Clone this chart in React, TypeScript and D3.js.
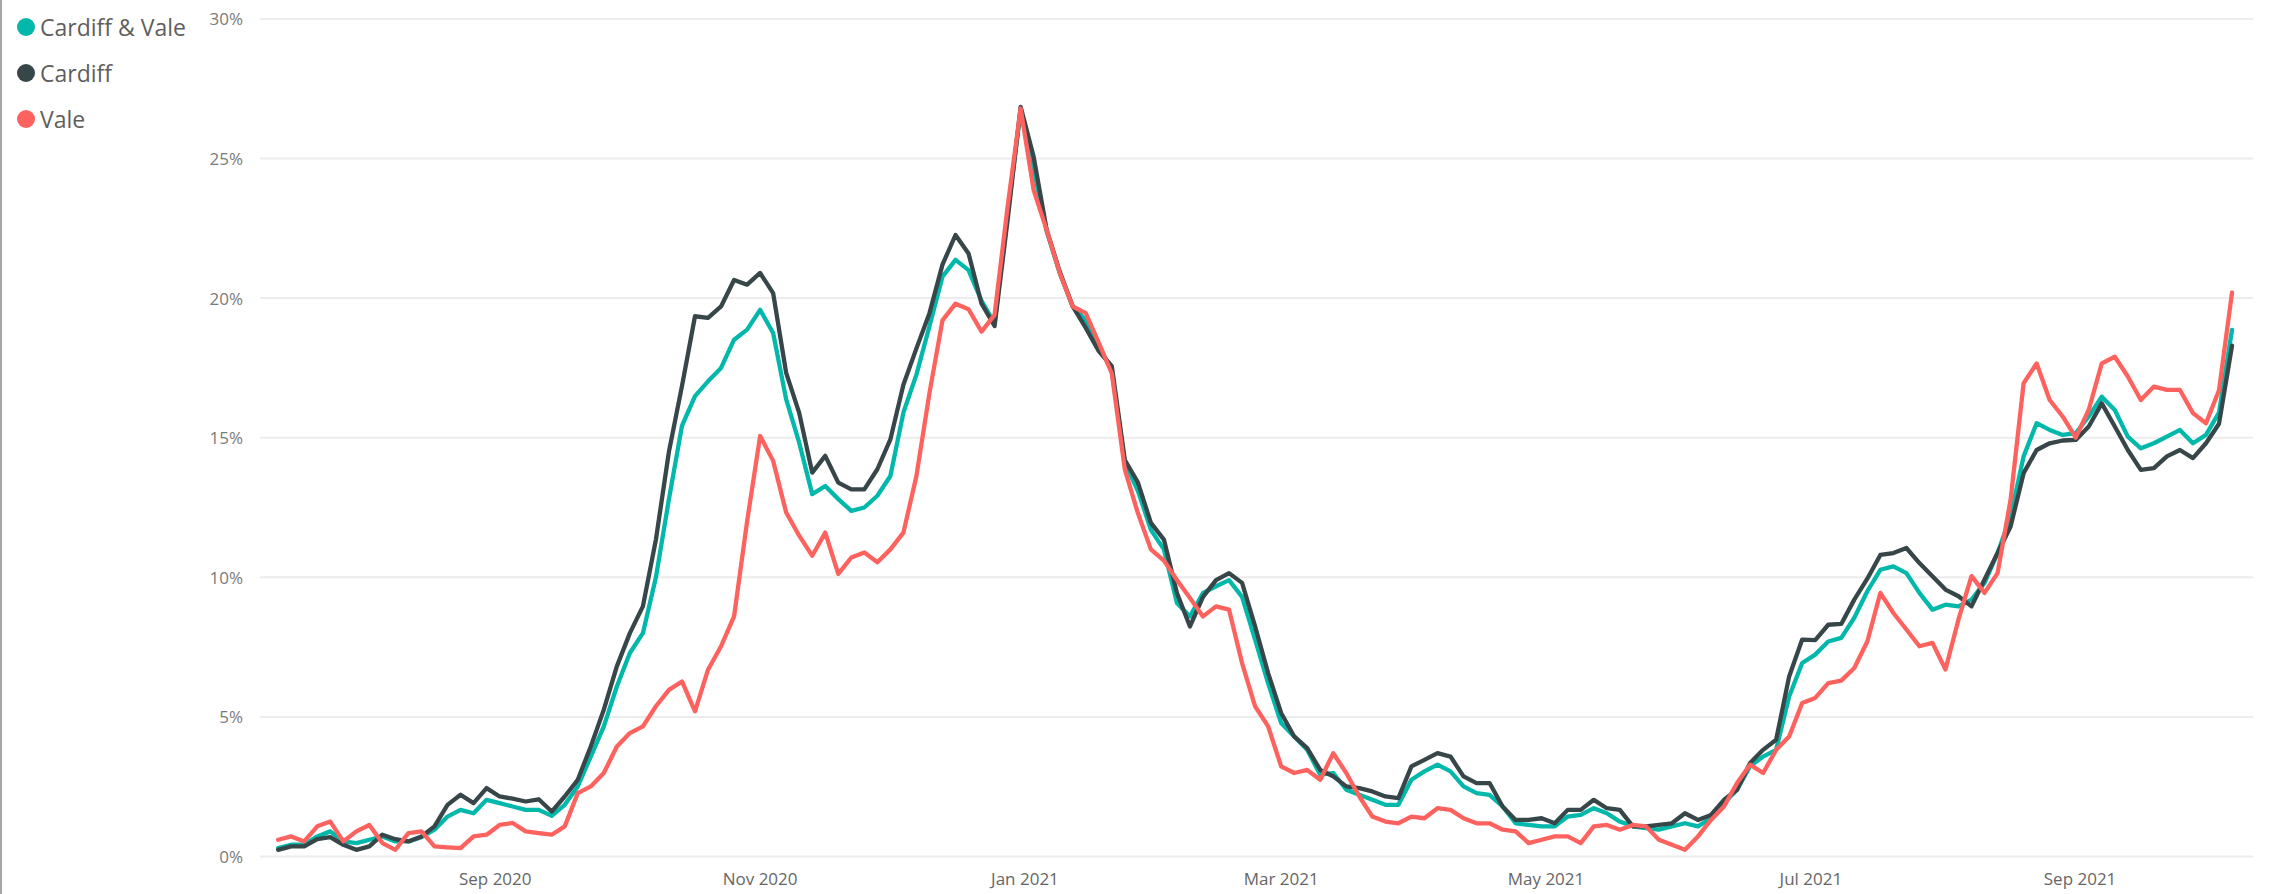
import React from "react";
import * as d3 from "d3";

// ---- data (7-day positivity, %, sampled every 3 days from 2020-07-13) ----
const startDate = "2020-07-13";
const stepDays = 3;

const seriesNames = ["Cardiff & Vale", "Cardiff", "Vale"];
const seriesColors = ["#01B8AA", "#374649", "#FD625E"];

const cardiffVale = [
  0.3, 0.42, 0.42, 0.72, 0.9, 0.54, 0.48, 0.6, 0.72, 0.54,
  0.54, 0.69, 0.96, 1.43, 1.67, 1.55, 2.03, 1.91, 1.79, 1.67,
  1.67, 1.46, 1.85, 2.51, 3.58, 4.66, 6.09, 7.29, 8.0, 10.0,
  12.8, 15.42, 16.49, 17.02, 17.5, 18.51, 18.87, 19.58, 18.75, 16.37,
  14.82, 12.98, 13.27, 12.8, 12.38, 12.5, 12.92, 13.63, 15.9, 17.26,
  18.99, 20.77, 21.37, 21.0, 19.9, 19.1, 23.0, 26.7, 24.6, 22.4,
  20.9, 19.7, 19.2, 18.3, 17.4, 14.1, 13.1, 11.7, 11.0, 9.08,
  8.6, 9.44, 9.68, 9.9, 9.3, 7.77, 6.2, 4.78, 4.3, 3.82,
  2.93, 2.99, 2.39, 2.21, 2.03, 1.85, 1.85, 2.75, 3.05, 3.29,
  3.05, 2.51, 2.27, 2.21, 1.79, 1.19, 1.13, 1.08, 1.08, 1.43,
  1.49, 1.73, 1.55, 1.25, 1.08, 1.02, 0.96, 1.08, 1.19, 1.08,
  1.37, 1.91, 2.39, 3.23, 3.58, 3.82, 5.73, 6.93, 7.23, 7.7,
  7.83, 8.55, 9.5, 10.27, 10.39, 10.15, 9.44, 8.84, 9.02, 8.96,
  9.2, 9.8, 10.87, 12.18, 14.33, 15.52, 15.28, 15.1, 15.16, 15.76,
  16.47, 15.99, 15.04, 14.62, 14.8, 15.04, 15.28, 14.8, 15.1, 15.9,
  18.86,
];

const cardiff = [
  0.24, 0.36, 0.36, 0.62, 0.69, 0.42, 0.24, 0.36, 0.78, 0.62,
  0.54, 0.72, 1.08, 1.85, 2.21, 1.91, 2.45, 2.15, 2.07, 1.97,
  2.05, 1.61, 2.15, 2.75, 3.94, 5.26, 6.81, 8.0, 8.96, 11.35,
  14.5, 16.85, 19.35, 19.29, 19.7, 20.65, 20.48, 20.9, 20.18, 17.32,
  15.89, 13.75, 14.35, 13.39, 13.15, 13.15, 13.87, 14.94, 16.9, 18.2,
  19.46, 21.2, 22.26, 21.6, 19.8, 19.0, 22.8, 26.85, 25.06, 22.44,
  20.95, 19.7, 18.93, 18.1, 17.56, 14.2, 13.4, 11.95, 11.35, 9.44,
  8.24, 9.3, 9.9, 10.15, 9.8, 8.24, 6.57, 5.14, 4.3, 3.88,
  3.1, 2.87, 2.51, 2.45, 2.33, 2.15, 2.09, 3.23, 3.46, 3.7,
  3.58, 2.87, 2.63, 2.63, 1.79, 1.31, 1.31, 1.37, 1.19, 1.67,
  1.67, 2.03, 1.73, 1.67, 1.08, 1.08, 1.13, 1.19, 1.55, 1.31,
  1.49, 2.03, 2.39, 3.35, 3.82, 4.18, 6.45, 7.77, 7.75, 8.3,
  8.33, 9.2, 9.95, 10.8, 10.87, 11.05, 10.51, 10.04, 9.56, 9.32,
  8.96, 9.92, 10.87, 11.82, 13.73, 14.56, 14.8, 14.9, 14.92, 15.4,
  16.23, 15.4, 14.56, 13.85, 13.91, 14.33, 14.56, 14.27, 14.8, 15.5,
  18.3,
];

const vale = [
  0.6, 0.72, 0.54, 1.08, 1.25, 0.54, 0.9, 1.13, 0.48, 0.24,
  0.84, 0.9, 0.36, 0.33, 0.3, 0.72, 0.78, 1.13, 1.2, 0.9,
  0.84, 0.78, 1.08, 2.27, 2.51, 2.99, 3.94, 4.42, 4.66, 5.38,
  5.97, 6.27, 5.2, 6.69, 7.53, 8.6, 12.0, 15.06, 14.17, 12.32,
  11.49, 10.77, 11.6, 10.12, 10.71, 10.89, 10.54, 11.0, 11.6, 13.63,
  16.6, 19.2, 19.8, 19.6, 18.8, 19.4, 23.27, 26.79, 23.87, 22.44,
  20.9, 19.7, 19.46, 18.4, 17.3, 13.86, 12.3, 11.0, 10.6, 9.9,
  9.26, 8.6, 8.96, 8.84, 6.93, 5.38, 4.66, 3.23, 2.99, 3.1,
  2.75, 3.7, 2.99, 2.15, 1.43, 1.25, 1.19, 1.43, 1.37, 1.73,
  1.67, 1.37, 1.19, 1.19, 0.96, 0.9, 0.48, 0.6, 0.72, 0.72,
  0.48, 1.08, 1.13, 0.96, 1.13, 1.08, 0.6, 0.42, 0.24, 0.72,
  1.31, 1.79, 2.63, 3.29, 2.99, 3.82, 4.3, 5.5, 5.68, 6.21,
  6.3, 6.75, 7.7, 9.44, 8.72, 8.13, 7.53, 7.65, 6.7, 8.49,
  10.04, 9.44, 10.15, 12.78, 16.95, 17.66, 16.35, 15.76, 15.0, 16.0,
  17.66, 17.9, 17.19, 16.35, 16.83, 16.71, 16.71, 15.88, 15.52, 16.7,
  20.2,
];

const yTicks = [0, 5, 10, 15, 20, 25, 30];
const xTickDates = ["2020-09-01", "2020-11-01", "2021-01-01", "2021-03-01", "2021-05-01", "2021-07-01", "2021-09-01"];
const xTickLabels = ["Sep 2020", "Nov 2020", "Jan 2021", "Mar 2021", "May 2021", "Jul 2021", "Sep 2021"];
const xDomain = ["2020-07-09", "2021-10-10"];

// ---- layout ----
const W = 2280;
const H = 894;
const plotLeft = 260;
const plotRight = 2253;
const FONT = "'Segoe UI', 'Open Sans', 'Noto Sans', sans-serif";

const parse = (s: string) => new Date(s + "T00:00:00Z");

export default function App() {
  const x = d3.scaleUtc().domain(xDomain.map(parse)).range([260.8, 2249.4]);
  const y = d3.scaleLinear().domain([0, 30]).range([856.5, 18.9]);

  const t0 = parse(startDate).getTime();
  const dayMs = 86400000;
  const all = [cardiffVale, cardiff, vale];

  const line = d3
    .line<number>()
    .x((_, i) => x(new Date(t0 + i * stepDays * dayMs)))
    .y((d) => y(d));

  return (
    <div style={{ position: "absolute", left: 0, top: 0, width: W, height: H, background: "#fff" }}>
      <svg width={W} height={H} style={{ display: "block" }}>
        <rect x={0} y={0} width={W} height={H} fill="#ffffff" />
        <line x1={1} x2={1} y1={0} y2={H} stroke="#a6a6a6" strokeWidth={2} />

        {/* gridlines + y labels */}
        {yTicks.map((t) => (
          <g key={t}>
            <line x1={plotLeft} x2={plotRight} y1={y(t)} y2={y(t)} stroke="#ececec" strokeWidth={2} />
            <text
              x={243}
              y={y(t)}
              textAnchor="end"
              dominantBaseline="central"
              fontFamily={FONT}
              fontSize={17}
              fill="#7a7a7a"
            >
              {t + "%"}
            </text>
          </g>
        ))}

        {/* x labels */}
        {xTickDates.map((d, i) => (
          <text
            key={d}
            x={x(parse(d))}
            y={878}
            textAnchor="middle"
            dominantBaseline="central"
            fontFamily={FONT}
            fontSize={17}
            fill="#666666"
          >
            {xTickLabels[i]}
          </text>
        ))}

        {/* lines */}
        {all.map((s, k) => (
          <path
            key={k}
            d={line(s) || ""}
            fill="none"
            stroke={seriesColors[k]}
            strokeWidth={4.3}
            strokeLinejoin="round"
            strokeLinecap="round"
          />
        ))}

        {/* legend */}
        {seriesNames.map((n, k) => (
          <g key={n}>
            <circle cx={26} cy={27 + k * 46} r={9} fill={seriesColors[k]} />
            <text
              x={40}
              y={27 + k * 46}
              dominantBaseline="central"
              fontFamily={FONT}
              fontSize={23}
              fill="#605E5C"
            >
              {n}
            </text>
          </g>
        ))}
      </svg>
    </div>
  );
}
